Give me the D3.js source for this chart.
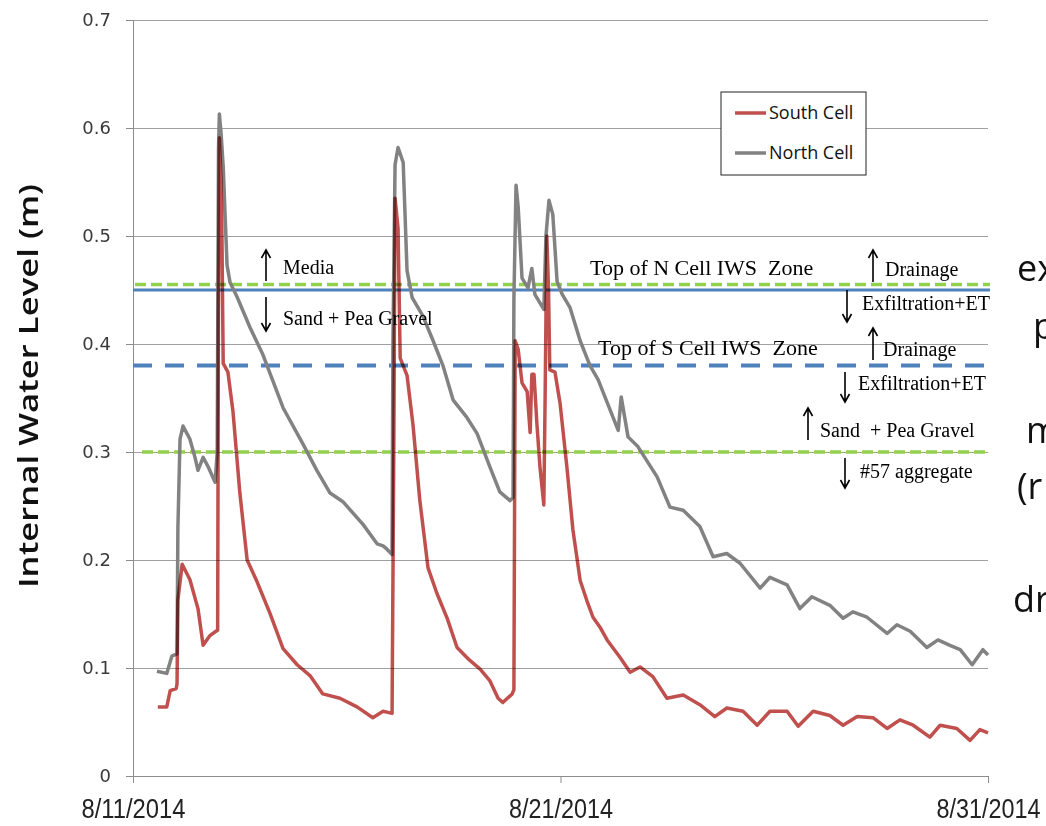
<!DOCTYPE html>
<html>
<head>
<meta charset="utf-8">
<script src="https://cdn.jsdelivr.net/npm/d3@7"></script>
<style>
  html, body { margin: 0; padding: 0; background: #fff; }
  svg { display: block; }
</style>
</head>
<body>
<div id="main"></div>
<script>
// =========================== data ===========================
// x values are days after 8/11/2014 00:00, y values are water level (m)
var northCell = [
	[0.56,0.097],[0.79,0.095],[0.91,0.111],[1.03,0.113],[1.05,0.229],[1.10,0.312],[1.17,0.324],
	[1.33,0.312],[1.45,0.295],[1.52,0.283],[1.64,0.295],[1.75,0.287],[1.92,0.272],[1.97,0.300],
	[2.00,0.580],[2.02,0.613],[2.06,0.595],[2.11,0.564],[2.20,0.473],[2.27,0.457],[2.43,0.444],
	[2.74,0.415],[3.04,0.390],[3.51,0.341],[3.98,0.307],[4.30,0.283],[4.61,0.262],[4.91,0.254],
	[5.38,0.233],[5.71,0.215],[5.85,0.213],[5.94,0.210],[6.06,0.205],[6.08,0.400],[6.13,0.566],
	[6.20,0.582],[6.32,0.568],[6.41,0.468],[6.53,0.443],[6.78,0.426],[7.02,0.403],[7.25,0.380],
	[7.49,0.348],[7.81,0.332],[8.05,0.317],[8.35,0.286],[8.58,0.263],[8.82,0.255],[8.89,0.258],
	[8.91,0.442],[8.96,0.547],[9.01,0.527],[9.10,0.461],[9.24,0.452],[9.33,0.470],[9.40,0.446],
	[9.61,0.432],[9.66,0.500],[9.73,0.533],[9.82,0.520],[9.92,0.458],[10.04,0.446],[10.22,0.434],
	[10.46,0.403],[10.69,0.380],[10.88,0.367],[11.35,0.320],[11.42,0.351],[11.58,0.314],[11.81,0.305],
	[12.26,0.277],[12.56,0.249],[12.87,0.246],[13.26,0.231],[13.57,0.203],[13.89,0.206],[14.20,0.197],
	[14.67,0.174],[14.90,0.184],[15.30,0.177],[15.60,0.155],[15.88,0.166],[16.30,0.158],[16.61,0.146],
	[16.84,0.152],[17.17,0.147],[17.64,0.132],[17.87,0.140],[18.18,0.134],[18.57,0.119],[18.83,0.126],
	[19.11,0.121],[19.35,0.117],[19.63,0.103],[19.88,0.117],[20.00,0.112]
];

var southCell = [
	[0.58,0.064],[0.79,0.064],[0.87,0.079],[1.01,0.081],[1.03,0.085],[1.05,0.163],[1.15,0.196],
	[1.33,0.182],[1.52,0.155],[1.64,0.121],[1.80,0.130],[1.94,0.134],[1.98,0.135],[2.00,0.450],
	[2.02,0.591],[2.06,0.550],[2.08,0.502],[2.11,0.382],[2.22,0.374],[2.34,0.337],[2.50,0.262],
	[2.67,0.200],[2.90,0.180],[3.20,0.151],[3.51,0.118],[3.84,0.103],[4.14,0.093],[4.44,0.076],
	[4.84,0.072],[5.24,0.064],[5.61,0.054],[5.85,0.060],[6.06,0.058],[6.10,0.300],[6.13,0.535],
	[6.20,0.507],[6.25,0.387],[6.41,0.371],[6.55,0.325],[6.71,0.255],[6.90,0.193],[7.11,0.169],
	[7.35,0.146],[7.58,0.119],[7.88,0.107],[8.12,0.099],[8.35,0.088],[8.54,0.072],[8.65,0.068],
	[8.87,0.076],[8.91,0.080],[8.94,0.403],[9.01,0.395],[9.10,0.364],[9.22,0.356],[9.29,0.318],
	[9.33,0.372],[9.38,0.372],[9.45,0.325],[9.52,0.286],[9.61,0.251],[9.64,0.350],[9.68,0.500],
	[9.72,0.450],[9.75,0.376],[9.87,0.374],[9.99,0.345],[10.15,0.286],[10.29,0.228],[10.46,0.181],
	[10.62,0.162],[10.76,0.147],[10.92,0.138],[11.09,0.126],[11.39,0.110],[11.63,0.096],[11.86,0.101],
	[12.16,0.092],[12.49,0.072],[12.87,0.075],[13.26,0.066],[13.61,0.055],[13.89,0.063],[14.27,0.060],
	[14.60,0.047],[14.90,0.060],[15.30,0.060],[15.56,0.046],[15.91,0.060],[16.30,0.056],[16.61,0.047],
	[16.94,0.055],[17.31,0.054],[17.64,0.044],[17.94,0.052],[18.25,0.047],[18.64,0.036],[18.88,0.047],
	[19.27,0.044],[19.58,0.033],[19.81,0.043],[20.00,0.040]
];

var seriesNames = ['South Cell', 'North Cell'];
var xTickDays = [0, 10, 20];
var xTickLabels = ['8/11/2014', '8/21/2014', '8/31/2014'];
var yTicks = [0, 0.1, 0.2, 0.3, 0.4, 0.5, 0.6, 0.7];

// zone levels (m)
var topMediaLevel = 0.455;   // media / sand + pea gravel boundary
var topNCellIWS = 0.45;
var topSCellIWS = 0.38;
var topAggregateLevel = 0.30; // sand + pea gravel / #57 aggregate boundary

// ========================= svg config =========================
const W = 1046, H = 826;
const plot = {left: 133, right: 988, top: 20, bottom: 776};
const startDate = new Date(2014, 7, 11);

function dayToDate(d){
	return new Date(startDate.getTime() + d * 86400000);
}

const svg = d3.select('#main').append('svg')
	.attr('width', W)
	.attr('height', H);

var x = d3.scaleTime()
	.domain([dayToDate(0), dayToDate(20)])
	.range([plot.left, plot.right]);

var y = d3.scaleLinear()
	.domain([0, 0.7])
	.range([plot.bottom, plot.top]);

// gridlines
svg.append('g')
	.attr('transform', 'translate(' + plot.left + ',0)')
	.call(d3.axisLeft(y).tickValues(yTicks.slice(1)).tickSize(-(plot.right - plot.left)).tickFormat(''))
	.call(g => g.select('.domain').remove())
	.call(g => g.selectAll('line').attr('stroke', '#a0a0a0').attr('stroke-width', 1));

// y axis
var yAxis = svg.append('g')
	.attr('transform', 'translate(' + plot.left + ',0)')
	.call(d3.axisLeft(y).tickValues(yTicks).tickSize(7).tickPadding(15)
		.tickFormat(d => d === 0 ? '0' : d.toFixed(1)));
yAxis.select('.domain').attr('stroke', '#8c8c8c');
yAxis.selectAll('line').attr('stroke', '#8c8c8c');
yAxis.selectAll('text')
	.attr('fill', '#3a3a3a')
	.style('font-family', '"DejaVu Sans", sans-serif')
	.style('font-size', '18px');

// x axis
var xAxis = svg.append('g')
	.attr('transform', 'translate(0,' + plot.bottom + ')')
	.call(d3.axisBottom(x).tickValues(xTickDays.map(dayToDate)).tickSize(7)
		.tickFormat((d, i) => xTickLabels[i]));
xAxis.select('.domain').attr('stroke', '#8c8c8c');
xAxis.selectAll('line').attr('stroke', '#8c8c8c');
xAxis.selectAll('text')
	.attr('y', 42)
	.attr('dy', 0)
	.attr('fill', '#222')
	.attr('textLength', 104)
	.attr('lengthAdjust', 'spacingAndGlyphs')
	.style('font-family', '"Liberation Sans Narrow", "Liberation Sans", sans-serif')
	.style('font-size', '27px');

// y axis title
svg.append('text')
	.attr('transform', 'translate(38,386) rotate(-90)')
	.attr('text-anchor', 'middle')
	.attr('textLength', 404)
	.attr('lengthAdjust', 'spacingAndGlyphs')
	.style('font-family', '"Open Sans", sans-serif')
	.style('font-weight', 600)
	.style('font-size', '27px')
	.attr('fill', '#111')
	.text('Internal Water Level (m)');

// ===================== zone boundary lines =====================
function hline(level, x0, color, width, dash){
	svg.append('line')
		.attr('x1', x0).attr('x2', plot.right + 2)
		.attr('y1', y(level)).attr('y2', y(level))
		.attr('stroke', color)
		.attr('stroke-width', width)
		.attr('stroke-dasharray', dash);
}
hline(topNCellIWS, plot.left, '#4f81bd', 3, null);
hline(topMediaLevel, plot.left + 2, '#92d050', 3.5, '11,5');
hline(topSCellIWS, plot.left, '#4f81bd', 4, '19,13');
hline(topAggregateLevel, plot.left + 9, '#92d050', 3.5, '11,5');

// ========================= series =========================
var line = d3.line()
	.x(d => x(dayToDate(d[0])))
	.y(d => y(d[1]));

svg.append('path')
	.datum(northCell)
	.attr('d', line)
	.attr('fill', 'none')
	.attr('stroke', '#828282')
	.attr('stroke-width', 3.5)
	.attr('stroke-linejoin', 'round');

svg.append('path')
	.datum(southCell)
	.attr('d', line)
	.attr('fill', 'none')
	.attr('stroke', '#c0504d')
	.attr('stroke-width', 3.5)
	.attr('stroke-linejoin', 'round')
	.style('mix-blend-mode', 'multiply');

// ========================= legend =========================
var legend = svg.append('g').attr('transform', 'translate(721,92)');
legend.append('rect')
	.attr('width', 145).attr('height', 83)
	.attr('fill', '#fff')
	.attr('stroke', '#222')
	.attr('stroke-width', 1);
var legendColors = ['#c0504d', '#828282'];
seriesNames.forEach(function(name, i){
	var ly = 21 + i * 40;
	legend.append('line')
		.attr('x1', 14).attr('x2', 45)
		.attr('y1', ly).attr('y2', ly)
		.attr('stroke', legendColors[i])
		.attr('stroke-width', 3.5);
	legend.append('text')
		.attr('x', 48).attr('y', ly + 6)
		.style('font-family', '"Open Sans", sans-serif')
		.style('font-size', '18px')
		.attr('fill', '#111')
		.text(name);
});

// ======================= annotations =======================
// arrows drawn as thin shafts with an open head
function arrow(ax, yTop, yBottom, up){
	var tip = up ? yTop : yBottom;
	var s = up ? 1 : -1;
	svg.append('path')
		.attr('d', 'M' + ax + ',' + yTop + 'L' + ax + ',' + yBottom +
			'M' + (ax - 4.5) + ',' + (tip + s * 8) + 'L' + ax + ',' + tip + 'L' + (ax + 4.5) + ',' + (tip + s * 8))
		.attr('fill', 'none')
		.attr('stroke', '#000')
		.attr('stroke-width', 1.6);
}
function label(tx, ty, txt, size){
	svg.append('text')
		.attr('x', tx).attr('y', ty)
		.style('font-family', '"Liberation Serif", "Times New Roman", serif')
		.style('font-size', size + 'px')
		.style('white-space', 'pre')
		.attr('fill', '#000')
		.text(txt);
}

arrow(266, 250, 281, true);
label(283, 274, 'Media', 20);
arrow(266, 297, 331, false);
label(283, 325, 'Sand + Pea Gravel', 20);

label(590, 275, 'Top of N Cell IWS\u00a0 Zone', 22);
arrow(873, 250, 282, true);
label(885, 276, 'Drainage', 20);
arrow(847, 290, 322, false);
label(862, 310, 'Exfiltration+ET', 20);

label(598, 355, 'Top of S Cell IWS\u00a0 Zone', 22);
arrow(873, 328, 360, true);
label(883, 356, 'Drainage', 20);
arrow(845, 372, 402, false);
label(858, 390, 'Exfiltration+ET', 20);

arrow(808, 408, 440, true);
label(820, 437, 'Sand \u00a0+ Pea Gravel', 20);
arrow(845, 458, 488, false);
label(860, 478, '#57 aggregate', 20);

// slide text that runs off the right edge
var sideText = [['ex', 1017, 281], ['p', 1033, 339], ['m', 1026, 443], ['(r', 1017, 499], ['dr', 1013, 612]];
sideText.forEach(function(t){
	svg.append('text')
		.attr('x', t[1]).attr('y', t[2])
		.style('font-family', '"Open Sans", sans-serif')
		.style('font-size', '36px')
		.attr('fill', '#111')
		.text(t[0]);
});
</script>
</body>
</html>
